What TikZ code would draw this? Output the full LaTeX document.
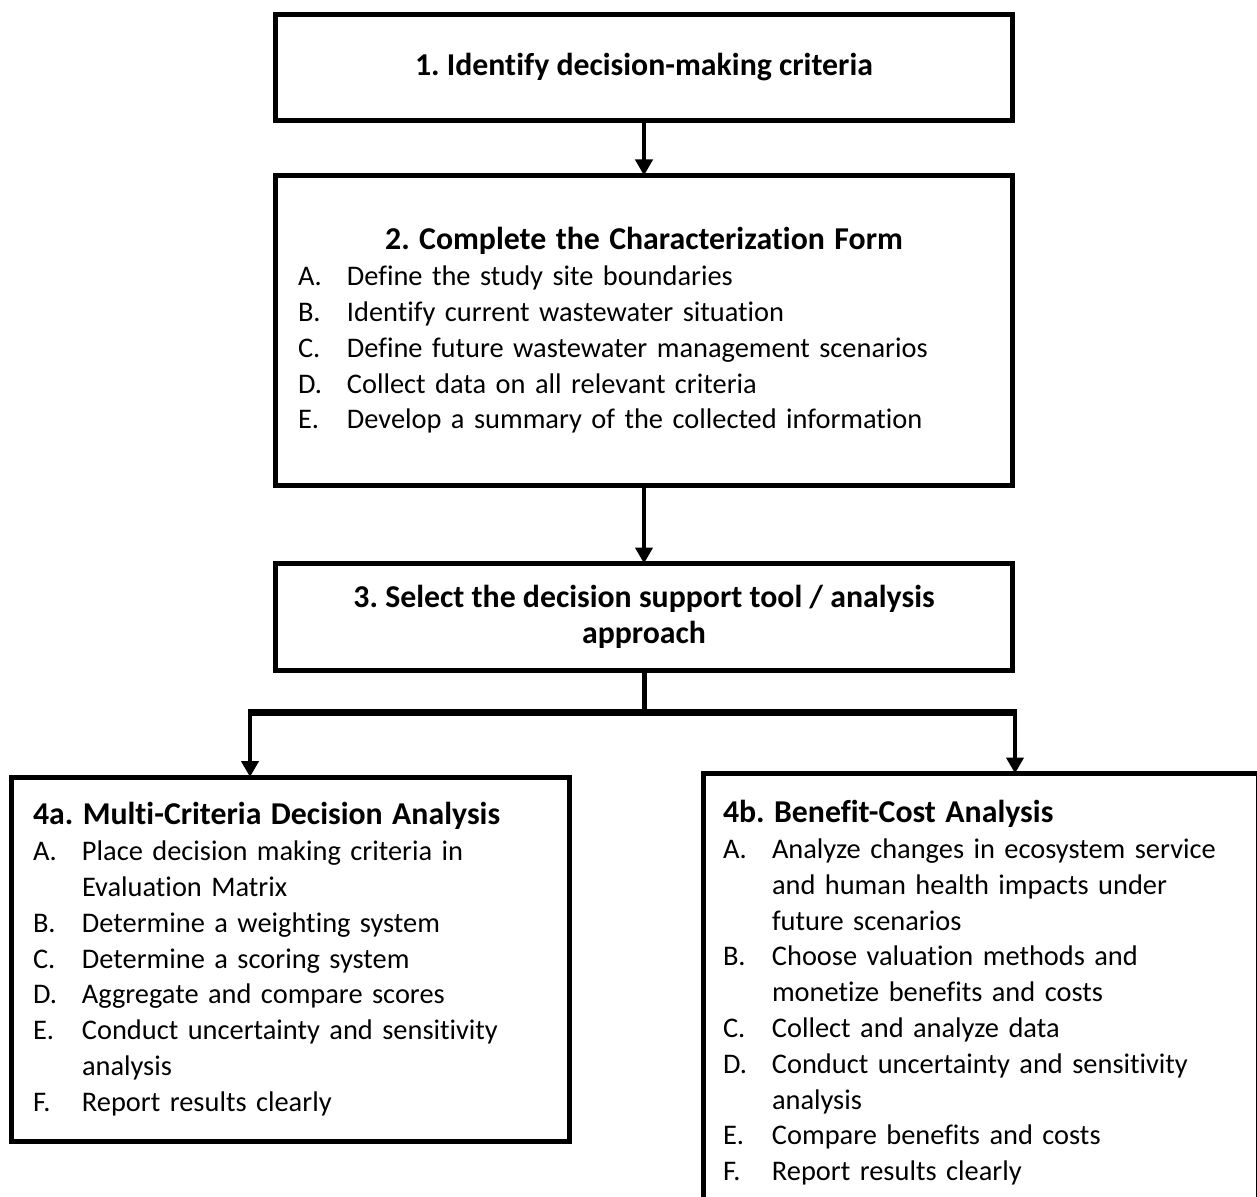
\documentclass[tikz,border=0pt]{standalone}
\usepackage{fontspec}
\setmainfont{Carlito}[Ligatures=NoCommon]
\frenchspacing
\usetikzlibrary{arrows.meta, positioning}
\newcommand{\fs}{\fontsize{14.2pt}{17.9pt}\selectfont}
\newcommand{\hd}{\fontsize{15.9pt}{17.9pt}\selectfont\bfseries}
\newcommand{\li}[2]{\makebox[24.5pt][l]{#1}#2}
\newcommand{\lc}[1]{\hspace*{24.5pt}#1}
\tikzset{
	box/.style={rectangle, draw, line width=2.5pt, outer sep=0pt,
		minimum width=368.5pt, align=center, font=\fs},
	headbox/.style={box, font=\hd},
	listbox/.style={box, align=left, inner xsep=0pt},
	arr/.style={-{Triangle[length=8pt, width=8.5pt]}, line width=2pt},
	stem/.style={line width=2.5pt},
	bar/.style={line width=3.5pt},
}

\begin{document}
\begin{tikzpicture}[x=0.5pt, y=-0.5pt]
	\useasboundingbox (0,0) rectangle (1257,1197);
	\node[headbox, minimum height=53pt] (crit) at (644,67.5) {1. Identify decision-making criteria};
	\node[listbox, text width=346pt, minimum height=155pt, below=27.5pt of crit] (form) {
		\makebox[346pt][c]{\hd 2. Complete the Characterization Form}\\
		\li{A.}{Define the study site boundaries}\\
		\li{B.}{Identify current wastewater situation}\\
		\li{C.}{Define future wastewater management scenarios}\\
		\li{D.}{Collect data on all relevant criteria}\\
		\li{E.}{Develop a summary of the collected information}
	};
	\node[headbox, minimum height=53.25pt, below=39pt of form] (tool) {3. Select the decision support tool / analysis\\approach};
	
	\node[listbox, text width=257pt, minimum width=279pt, minimum height=182.25pt] (mcda) at (290,959.25) {
		{\hd 4a. Multi-Criteria Decision Analysis}\\
		\li{A.}{Place decision making criteria in}\\
		\lc{Evaluation Matrix}\\
		\li{B.}{Determine a weighting system}\\
		\li{C.}{Determine a scoring system}\\
		\li{D.}{Aggregate and compare scores}\\
		\li{E.}{Conduct uncertainty and sensitivity}\\
		\lc{analysis}\\
		\li{F.}{Report results clearly}
	};
	\node[listbox, text width=257.5pt, minimum width=277.5pt, minimum height=219.25pt] (bca) at (980.5,992.75) {
		{\hd 4b. Benefit-Cost Analysis}\\
		\li{A.}{Analyze changes in ecosystem service}\\
		\lc{and human health impacts under}\\
		\lc{future scenarios}\\
		\li{B.}{Choose valuation methods and}\\
		\lc{monetize benefits and costs}\\
		\li{C.}{Collect and analyze data}\\
		\li{D.}{Conduct uncertainty and sensitivity}\\
		\lc{analysis}\\
		\li{E.}{Compare benefits and costs}\\
		\li{F.}{Report results clearly}
	};
	
	\coordinate (split) at (644,712);
	\coordinate (toA) at (250,712);
	\coordinate (toB) at (1015,712);
	
	\draw[arr] (crit) -- (form);
	\draw[arr] (form) -- (tool);
	\draw[stem] (tool) -- (split);
	\draw[bar] ([xshift=-1pt]toA) -- ([xshift=1pt]toB);
	\draw[arr] (toA) -- (toA |- mcda.north);
	\draw[arr] (toB) -- (toB |- bca.north);
\end{tikzpicture}
\end{document}
